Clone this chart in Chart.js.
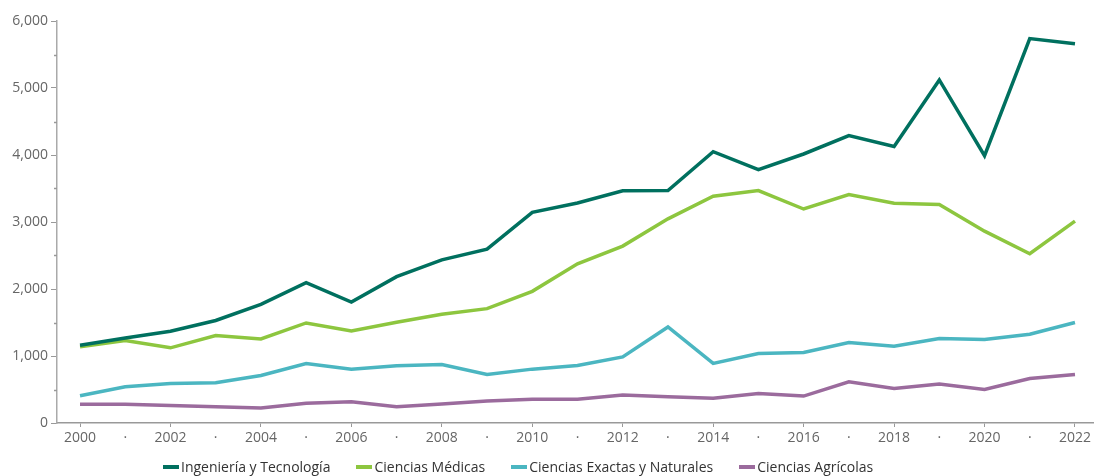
<!DOCTYPE html>
<html>
<head>
<meta charset="utf-8">
<script src="https://cdn.jsdelivr.net/npm/chart.js@4"></script>
<style>
  html, body { margin: 0; padding: 0; background: #fff; }
  #wrap { position: relative; width: 1094px; height: 476px; overflow: hidden; }
  #legend { position: absolute; left: 163px; top: 457px; display: flex; align-items: center;
            font-family: "Open Sans", sans-serif; font-size: 14px; color: #333; white-space: nowrap; }
  .item { display: flex; align-items: center; margin-right: 26px; }
  .mark { width: 16px; height: 4px; margin-right: 2px; }
</style>
</head>
<body>
<div id="wrap">
  <canvas id="c" width="1094" height="476"></canvas>
  <div id="legend"></div>
</div>
<script>
const years = [2000,2001,2002,2003,2004,2005,2006,2007,2008,2009,2010,2011,2012,2013,2014,2015,2016,2017,2018,2019,2020,2021,2022];
const seriesNames = ["Ingeniería y Tecnología", "Ciencias Médicas", "Ciencias Exactas y Naturales", "Ciencias Agrícolas"];
const ingenieria = [1160,1270,1370,1530,1770,2095,1805,2185,2435,2595,3145,3283,3467,3469,4050,3781,4015,4289,4128,5121,3990,5737,5662];
const medicas    = [1136,1230,1122,1305,1255,1493,1374,1505,1623,1707,1965,2375,2640,3047,3384,3469,3194,3409,3280,3260,2863,2526,3012];
const exactas    = [406,540,591,600,710,889,804,856,874,725,804,859,987,1434,889,1038,1054,1201,1146,1261,1246,1325,1499];
const agricolas  = [278,278,263,243,223,293,317,243,283,328,353,353,417,392,368,442,402,615,516,581,502,665,725];
const yTicks = [0,1000,2000,3000,4000,5000,6000];
const yMinorTicks = [500,1500,2500,3500,4500,5500];
const colors = ["#00705f", "#8dc63f", "#4bb6c1", "#9b6b9d"];

const seriesValues = [ingenieria, medicas, exactas, agricolas];
const datasets = seriesNames.map((name, i) => ({
  label: name,
  data: years.map((y, j) => ({ x: y, y: seriesValues[i][j] })),
  borderColor: colors[i],
  backgroundColor: colors[i],
  borderWidth: 3.5,
  pointRadius: 0,
  tension: 0,
  fill: false
}));

// Legend (HTML text)
const leg = document.getElementById('legend');
seriesNames.forEach((n, i) => {
  const it = document.createElement('div'); it.className = 'item';
  const m = document.createElement('div'); m.className = 'mark'; m.style.background = colors[i];
  const t = document.createElement('span'); t.textContent = n;
  it.appendChild(m); it.appendChild(t); leg.appendChild(it);
});

const minorTickPlugin = {
  id: 'minorTicks',
  afterDraw(chart) {
    const s = chart.scales.y, ctx = chart.ctx;
    ctx.save();
    ctx.strokeStyle = '#999';
    ctx.lineWidth = 1.5;
    yMinorTicks.forEach(v => {
      const py = Math.round(s.getPixelForValue(v)) + 0.5;
      ctx.beginPath();
      ctx.moveTo(s.right - 3, py);
      ctx.lineTo(s.right, py);
      ctx.stroke();
    });
    ctx.restore();
  }
};

new Chart(document.getElementById('c'), {
  type: 'line',
  data: { datasets },
  plugins: [minorTickPlugin],
  options: {
    responsive: false,
    animation: false,
    layout: { padding: { top: 21, left: 0, right: 0, bottom: 0 } },
    plugins: { legend: { display: false }, tooltip: { enabled: false } },
    scales: {
      x: {
        type: 'linear',
        min: 1999.491,
        max: 2022.42,
        afterBuildTicks: (s) => { s.ticks = years.map(v => ({ value: v })); },
        afterFit: (s) => { s.height = 53; },
        grid: {
          display: true,
          drawOnChartArea: false,
          drawTicks: true,
          tickLength: 4,
          tickColor: (ctx) => (ctx.tick && ctx.tick.value % 2 === 0) ? '#999' : 'rgba(0,0,0,0)'
        },
        border: { display: true, color: '#999', width: 1.5 },
        ticks: {
          autoSkip: false,
          maxRotation: 0,
          padding: 3,
          color: '#666',
          font: { family: 'Open Sans', size: 14 },
          callback: (v) => (v % 2 === 0) ? String(v) : '·'
        }
      },
      y: {
        min: 0,
        max: 6000,
        afterBuildTicks: (s) => { s.ticks = yTicks.map(v => ({ value: v })); },
        afterFit: (s) => { s.width = 57; },
        grid: {
          display: true,
          drawOnChartArea: false,
          drawTicks: true,
          tickLength: 6,
          tickColor: '#999'
        },
        border: { display: true, color: '#aaa', width: 1.5 },
        ticks: {
          padding: 3,
          color: '#666',
          font: { family: 'Open Sans', size: 14 },
          callback: (v) => v.toLocaleString('en-US')
        }
      }
    }
  }
});
</script>
</body>
</html>
